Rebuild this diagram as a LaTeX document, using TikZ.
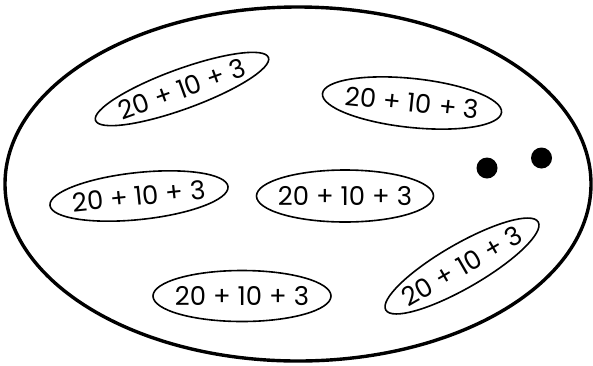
\documentclass[tikz,border=0pt]{standalone}
\usepackage{fontspec}
\setmainfont{Poppins}
\usetikzlibrary{shapes.geometric}
\tikzset{
  bigset/.style={draw, ellipse, inner sep=0pt, line width=3.4bp},
  oval/.style={draw, ellipse, inner xsep=-24bp, inner ysep=0pt, line width=1.6bp,
    font=\fontsize{26}{26}\selectfont},
  dotmark/.style={circle, fill=black, inner sep=0pt, minimum size=21bp},
}
\begin{document}
\begin{tikzpicture}[x=1bp, y=-1bp]
\useasboundingbox (0,0) rectangle (593,365);
\node[bigset, minimum width=586bp, minimum height=354bp] (set) at (298,184) {};
% ovals with their sums
\node[oval, minimum width=184bp, minimum height=40bp, rotate=20] (o1) at (182,89) {20 + 10 + 3};
\node[oval, minimum width=180bp, minimum height=49bp, rotate=-6] (o2) at (412,103) {20 + 10 + 3};
\node[oval, minimum width=179bp, minimum height=47bp, rotate=6] (o3) at (139,196) {20 + 10 + 3};
\node[oval, minimum width=177bp, minimum height=52bp] (o4) at (345,196) {20 + 10 + 3};
\node[oval, minimum width=178bp, minimum height=51bp] (o5) at (242,296) {20 + 10 + 3};
\node[oval, minimum width=176bp, minimum height=44bp, rotate=30] (o6) at (462,266) {20 + 10 + 3};
% dots
\node[dotmark] (d1) at (487,168) {};
\node[dotmark] (d2) at (541.5,158) {};
\end{tikzpicture}
\end{document}
